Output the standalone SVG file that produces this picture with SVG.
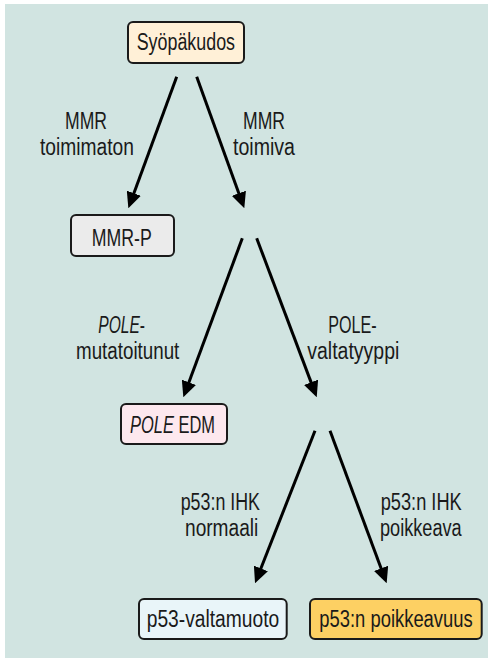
<svg xmlns="http://www.w3.org/2000/svg" width="488" height="658" viewBox="0 0 488 658">
<defs>
<style>
.bg{fill:#d1e4e1}
.box{stroke:#1a1a1a;stroke-width:2}
text{font-family:"Liberation Sans",Arial,sans-serif;font-size:23.5px;fill:#1a1a1a}
.it{font-style:italic}
.edge{stroke:#000;stroke-width:3;fill:none;marker-end:url(#ah)}
</style>
<marker id="ah" viewBox="0 0 16 15" refX="6" refY="7.5" markerWidth="16" markerHeight="15" markerUnits="userSpaceOnUse" orient="auto">
<path d="M0,0 L16,7.5 L0,15 z" fill="#000"/>
</marker>
</defs>
<rect x="0" y="0" width="488" height="658" fill="#fff"/>
<rect class="bg" x="5" y="4" width="483" height="654"/>

<g id="connectors">
<line class="edge" x1="176.7" y1="76.7" x2="131.8" y2="198.9"/>
<line class="edge" x1="196.7" y1="76.7" x2="240.9" y2="198.9"/>
<line class="edge" x1="242.3" y1="238.3" x2="186.8" y2="387.9"/>
<line class="edge" x1="256.7" y1="238.3" x2="313.2" y2="387.9"/>
<line class="edge" x1="315" y1="430.7" x2="258.7" y2="574"/>
<line class="edge" x1="330" y1="430.7" x2="383.2" y2="574"/>
<text x="65" y="128.5" textLength="42" lengthAdjust="spacingAndGlyphs">MMR</text>
<text x="40" y="155" textLength="94" lengthAdjust="spacingAndGlyphs">toimimaton</text>
<text x="243" y="128.5" textLength="42" lengthAdjust="spacingAndGlyphs">MMR</text>
<text x="233" y="155" textLength="62" lengthAdjust="spacingAndGlyphs">toimiva</text>
<text x="98.3" y="332.7" textLength="46.7" lengthAdjust="spacingAndGlyphs"><tspan class="it">POLE</tspan>-</text>
<text x="76" y="359.3" textLength="103.3" lengthAdjust="spacingAndGlyphs">mutatoitunut</text>
<text x="328.3" y="332.7" textLength="48.4" lengthAdjust="spacingAndGlyphs">POLE-</text>
<text x="307.3" y="359.3" textLength="92" lengthAdjust="spacingAndGlyphs">valtatyyppi</text>
<text x="180.7" y="510" textLength="79.3" lengthAdjust="spacingAndGlyphs">p53:n IHK</text>
<text x="185" y="535.5" textLength="73.3" lengthAdjust="spacingAndGlyphs">normaali</text>
<text x="380.7" y="510" textLength="81" lengthAdjust="spacingAndGlyphs">p53:n IHK</text>
<text x="380" y="535.5" textLength="81.7" lengthAdjust="spacingAndGlyphs">poikkeava</text>
</g>

<g id="syopakudos">
<rect class="box" x="128" y="22" width="116" height="41" rx="5" fill="#fff0d7"/>
<text x="136.7" y="50" textLength="98.3" lengthAdjust="spacingAndGlyphs">Syöpäkudos</text>
</g>
<g id="mmr-p">
<rect class="box" x="71" y="215" width="103" height="41" rx="5" fill="#ebebeb"/>
<text x="91.7" y="245.5" textLength="60" lengthAdjust="spacingAndGlyphs">MMR-P</text>
</g>
<g id="pole-edm">
<rect class="box" x="121" y="404" width="106" height="40" rx="5" fill="#fde8ee"/>
<text x="130" y="432.5" textLength="85" lengthAdjust="spacingAndGlyphs"><tspan class="it">POLE</tspan> EDM</text>
</g>
<g id="p53-valtamuoto">
<rect class="box" x="139" y="599" width="147.7" height="40" rx="5" fill="#e9f5f9"/>
<text x="146.7" y="626.5" textLength="132.6" lengthAdjust="spacingAndGlyphs">p53-valtamuoto</text>
</g>
<g id="p53-poikkeavuus">
<rect class="box" x="310" y="599" width="171.7" height="40" rx="5" fill="#fdd063"/>
<text x="319.3" y="626.5" textLength="153.4" lengthAdjust="spacingAndGlyphs">p53:n poikkeavuus</text>
</g>
</svg>
